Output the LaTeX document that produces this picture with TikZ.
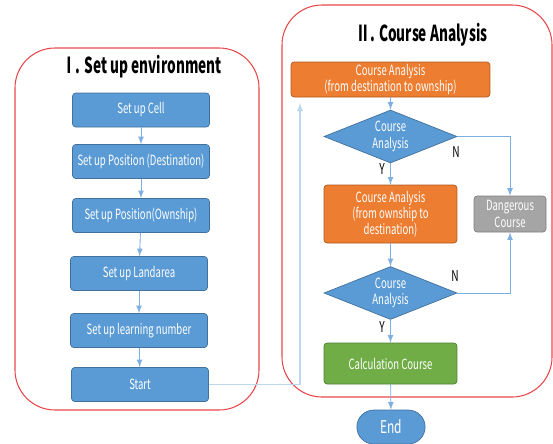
\documentclass[tikz,border=0pt]{standalone}
\usepackage{fontspec}
\setmainfont{Noto Sans CJK KR}
\newfontfamily\boxfont{Noto Sans CJK KR}[FakeStretch=0.68]
\newfontfamily\headfont{Noto Sans CJK KR}[FakeStretch=0.62]
\usetikzlibrary{arrows,shapes.geometric,shapes.misc}
\definecolor{stepblue}{HTML}{5B9BD5}
\definecolor{stepblueline}{HTML}{41719C}
\definecolor{steporange}{HTML}{ED7D31}
\definecolor{steporangeline}{HTML}{AE5A21}
\definecolor{stepgreen}{HTML}{70AD47}
\definecolor{stepgreenline}{HTML}{507E32}
\definecolor{stepgray}{HTML}{A5A5A5}
\definecolor{stepgrayline}{HTML}{7F7F7F}
\definecolor{flowline}{HTML}{7FAEE0}
\definecolor{paleline}{HTML}{BDD7EE}
\definecolor{panelred}{HTML}{E8474A}
\tikzset{
  stepbox/.style={rectangle, rounded corners=1.8pt, draw=stepblueline, fill=stepblue,
    line width=0.4pt, text=white, font=\boxfont\fontsize{8}{9.2}\selectfont,
    align=center, inner sep=1pt},
  setbox/.style={stepbox, minimum width=2.74cm, minimum height=0.68cm},
  orangebox/.style={stepbox, draw=steporangeline, fill=steporange},
  testbox/.style={diamond, draw=stepblueline, fill=stepblue, line width=0.4pt,
    text=white, font=\boxfont\fontsize{8}{9.4}\selectfont, align=center,
    inner sep=0pt, shape aspect=2.5, minimum width=2.66cm, minimum height=1.06cm},
  flow/.style={-latex, draw=flowline, line width=0.5pt},
  panel/.style={draw=panelred, line width=0.6pt, rounded corners=0.8cm},
  yn/.style={font=\boxfont\fontsize{8.5}{9}\selectfont}
}
\begin{document}
\begin{tikzpicture}[x=0.02cm, y=-0.02cm]
\useasboundingbox (0,0) rectangle (553,443);

\draw[panel] (15,48) rectangle (259,410);
\draw[panel] (282,5) rectangle (552,397);
\node[font=\headfont\bfseries\fontsize{12.5}{14}\selectfont] (head1) at (142,67) {Ⅰ. Set up environment};
\node[font=\headfont\bfseries\fontsize{12.5}{14}\selectfont] (head2) at (422,35) {Ⅱ. Course Analysis};

\node[setbox] (cell) at (141,110) {Set up Cell};
\node[setbox] (dest) at (141,161.5) {Set up Position (Destination)};
\node[setbox] (own) at (141,215.5) {Set up Position(Ownship)};
\node[setbox] (land) at (139,273.5) {Set up Landarea};
\node[setbox] (learn) at (139,330.5) {Set up learning number};
\node[setbox] (start) at (140,384.5) {Start};

\draw[flow] (cell) -- (dest);
\draw[flow] (dest) -- (own);
\draw[flow] (own) -- (land);
\draw[flow] (land) -- (learn);
\draw[flow] (learn) -- (start);

\node[orangebox, minimum width=3.98cm, minimum height=0.7cm] (ca1) at (390.5,79.5)
  {Course Analysis\\(from destination to ownship)};
\node[testbox] (dec1) at (390.5,136.5) {Course\\Analysis};
\node[orangebox, minimum width=2.66cm, minimum height=1.16cm] (ca2) at (390.5,214)
  {Course Analysis\\(from ownship to\\destination)};
\node[stepbox, draw=stepgrayline, fill=stepgray, minimum width=1.44cm, minimum height=0.72cm] (danger) at (510,214)
  {Dangerous\\Course};
\node[testbox] (dec2) at (390.5,293) {Course\\Analysis};
\node[stepbox, draw=stepgreenline, fill=stepgreen, minimum width=2.66cm, minimum height=0.82cm] (calc) at (390.5,363.5)
  {Calculation Course};
\node[rounded rectangle, draw=stepblueline, fill=stepblue, line width=0.4pt, text=white,
  font=\boxfont\fontsize{10}{12}\selectfont, minimum width=1.6cm, minimum height=0.68cm] (fin) at (391,427) {End};

\draw[flow] (ca1) -- (dec1);
\draw[flow] (dec1) -- (ca2);
\draw[flow] (ca2) -- (dec2);
\draw[flow] (dec2) -- (calc);
\draw[flow] (calc) -- (fin);
\draw[flow] (dec1.east) -| (danger.north);
\draw[flow] (dec2.east) -| (danger.south);

\coordinate (back) at (300,103);
\draw[-latex, draw=paleline, line width=0.6pt] (start.east) -| (back);

\node[yn] (n1) at (456,152) {N};
\node[yn] (y1) at (382,169) {Y};
\node[yn] (n2) at (455,276) {N};
\node[yn] (y2) at (382,327) {Y};
\end{tikzpicture}
\end{document}
